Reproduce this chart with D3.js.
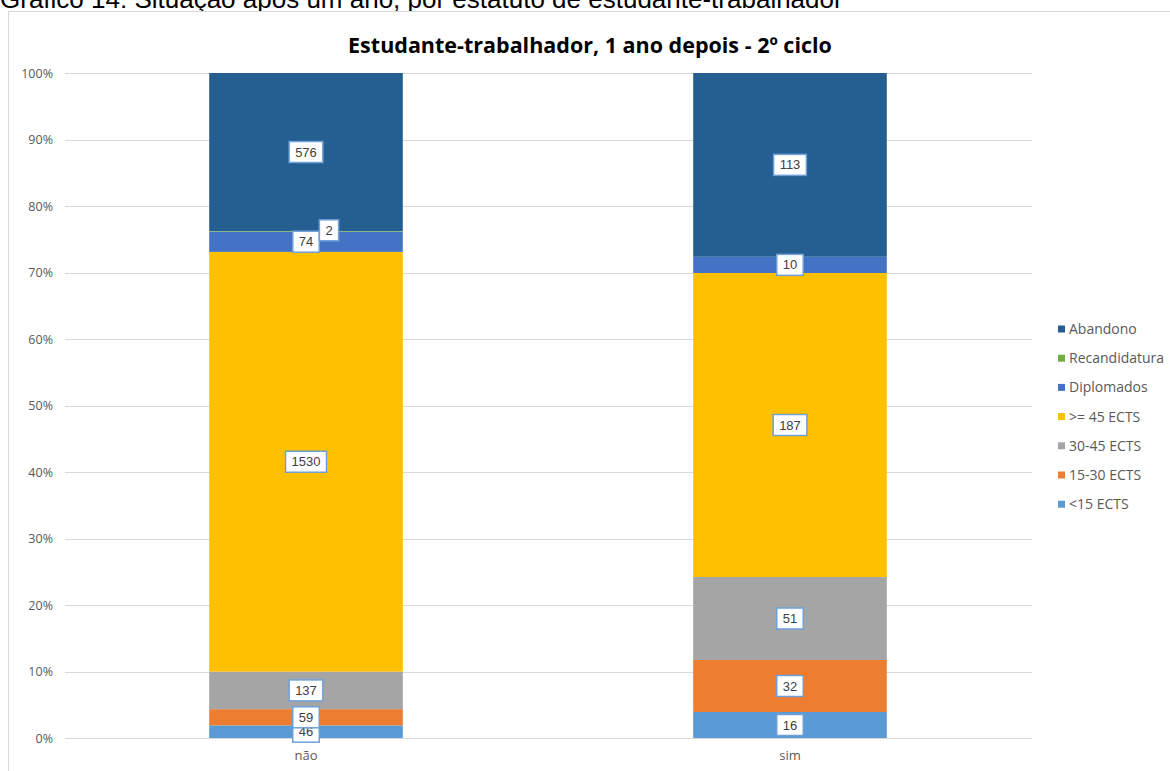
<!DOCTYPE html>
<html><head><meta charset="utf-8">
<script src="https://cdn.jsdelivr.net/npm/d3@7"></script>
<style>body{margin:0;background:#fff}svg{display:block}</style>
</head><body>
<svg id="c" width="1170" height="771"></svg>
<script>
const categories = ["não", "sim"];
const seriesNames = ["<15 ECTS", "15-30 ECTS", "30-45 ECTS", ">= 45 ECTS", "Diplomados", "Recandidatura", "Abandono"];
const seriesColors = ["#5b9bd5", "#ed7d31", "#a5a5a5", "#ffc000", "#4472c4", "#70ad47", "#255e91"];
const valuesNao = [46, 59, 137, 1530, 74, 2, 576];
const valuesSim = [16, 32, 51, 187, 10, 0, 113];
const yTicks = [0, 0.1, 0.2, 0.3, 0.4, 0.5, 0.6, 0.7, 0.8, 0.9, 1];
const headerText = "Gráfico 14: Situação após um ano, por estatuto de estudante-trabalhador";
const titleText = "Estudante-trabalhador, 1 ano depois - 2º ciclo";

const svg = d3.select("#c");
const font = "Liberation Sans, Arial, sans-serif";
const grey = "#595959";

// header (partly cut at the top, as in the reference)
svg.append("text").attr("x", 0).attr("y", 7.5).attr("font-family", font)
  .attr("font-size", 26).attr("fill", "#000").text(headerText);

// chart frame
svg.append("rect").attr("x", 8.5).attr("y", 11.5).attr("width", 1170).attr("height", 800)
  .attr("fill", "#fff").attr("stroke", "#d9d9d9").attr("stroke-width", 1);

svg.append("text").attr("x", 590).attr("y", 53).attr("text-anchor", "middle")
  .attr("font-family", "Open Sans, sans-serif").attr("font-weight", "bold").attr("font-size", 21.5)
  .attr("fill", "#000").text(titleText);

const x = d3.scaleBand().domain(categories).range([64, 1032]).paddingInner(0.6).paddingOuter(0.3);
const y = d3.scaleLinear().domain([0, 1]).range([738, 73]);

// grid
const g = svg.append("g");
g.selectAll("line.grid").data(yTicks).join("line")
  .attr("x1", 65).attr("x2", 1032)
  .attr("y1", d => Math.round(y(d)) + 0.5).attr("y2", d => Math.round(y(d)) + 0.5)
  .attr("stroke", "#d9d9d9").attr("stroke-width", 1);

const yAxis = d3.axisLeft(y).tickValues(yTicks).tickFormat(d3.format(".0%")).tickSize(0).tickPadding(0);
const ya = svg.append("g").attr("transform", "translate(53,0)").call(yAxis);
ya.select(".domain").remove();
ya.selectAll("text").attr("font-family", "Open Sans, sans-serif").attr("font-size", 12.5).attr("fill", grey);

const xAxis = d3.axisBottom(x).tickSize(0).tickPadding(0);
const xa = svg.append("g").attr("transform", "translate(0,751)").call(xAxis);
xa.select(".domain").remove();
xa.selectAll("text").attr("font-family", "Open Sans, sans-serif").attr("font-size", 13).attr("fill", grey);

// stacked data
const rows = categories.map((c, i) => {
  const vals = i === 0 ? valuesNao : valuesSim;
  const o = {cat: c};
  seriesNames.forEach((s, j) => o[s] = vals[j]);
  return o;
});
const stack = d3.stack().keys(seriesNames).offset(d3.stackOffsetExpand);
const series = stack(rows);

const bars = svg.append("g");
series.forEach((s, j) => {
  bars.selectAll(null).data(s).join("rect")
    .attr("x", d => x(d.data.cat))
    .attr("width", x.bandwidth())
    .attr("y", d => y(d[1]))
    .attr("height", d => y(d[0]) - y(d[1]))
    .attr("fill", seriesColors[j]);
});

// labels
const lab = svg.append("g");
series.forEach((s, j) => {
  s.forEach(d => {
    const v = d.data[s.key];
    if (!v) return;
    const h = y(d[0]) - y(d[1]);
    let cx = x(d.data.cat) + x.bandwidth() / 2;
    let cy = (y(d[0]) + y(d[1])) / 2;
    if (h < 4) { cx += 23; cy -= 1; }
    const t = lab.append("text").attr("x", cx).attr("y", cy).attr("dy", "0.35em")
      .attr("text-anchor", "middle").attr("font-family", font).attr("font-size", 13)
      .attr("fill", "#404040").text(v);
    const w = t.node().getComputedTextLength() + 12;
    lab.insert("rect", () => t.node())
      .attr("x", cx - w / 2).attr("y", cy - 10.5).attr("width", w).attr("height", 21)
      .attr("fill", "#fff").attr("stroke", "#6fa0d8").attr("stroke-width", 1.5);
  });
});

// legend
const legendOrder = seriesNames.map((s, j) => ({s, c: seriesColors[j]})).reverse();
const lg = svg.append("g");
legendOrder.forEach((d, i) => {
  const cy = 329 + i * 29.2;
  lg.append("rect").attr("x", 1058).attr("y", cy - 3.5).attr("width", 7).attr("height", 7).attr("fill", d.c);
  lg.append("text").attr("x", 1069).attr("y", cy).attr("dy", "0.35em")
    .attr("font-family", "Open Sans, sans-serif").attr("font-size", 14).attr("fill", grey).text(d.s);
});
</script>
</body></html>
